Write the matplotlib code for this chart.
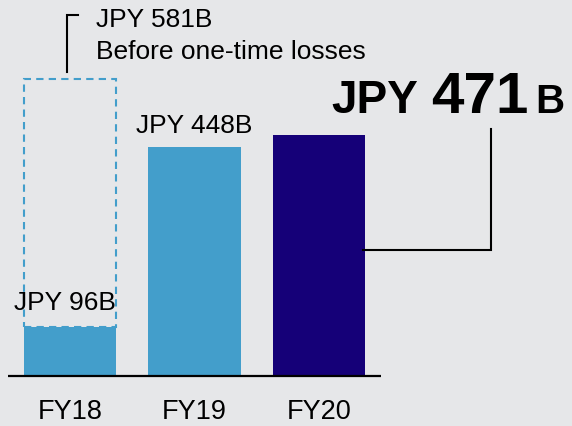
import matplotlib
matplotlib.use("Agg")
import matplotlib.pyplot as plt
from matplotlib.transforms import Affine2D

# data (JPY billions)
years = ["FY18", "FY19", "FY20"]
profit = [96, 448, 471]
before_losses = 581  # FY18 before one-time losses
bar_colors = ["#439ECB", "#439ECB", "#150078"]

W, H = 572, 426
bg = "#E6E7E9"
plt.rcParams["font.family"] = ["Liberation Sans", "DejaVu Sans"]

fig = plt.figure(figsize=(W / 100, H / 100), dpi=100, facecolor=bg)
ax = fig.add_axes([0, 0, 1, 1], facecolor=bg)
# x: bar i centred at pixel 70 + 124.5*i ; y: zero at pixel 376, 0.511 px per billion
ax.set_xlim(-70 / 124.5, (W - 70) / 124.5)
ax.set_ylim(-(H - 376) / 0.511, 376 / 0.511)
ax.axis("off")

# pixel transform (origin top-left) for the free annotations
px = Affine2D().scale(1 / W, -1 / H).translate(0, 1) + fig.transFigure

xs = list(range(len(years)))
ax.bar(xs, profit, width=0.745, color=bar_colors, zorder=2)
# dashed outline for FY18 before one-time losses
ax.bar(0, before_losses - profit[0], bottom=profit[0], width=0.745, fill=False,
       edgecolor="#439ECB", linestyle=(0, (3.5, 2.5)), linewidth=1.5, zorder=3)
ax.plot([-0.5, 2.5], [0, 0], color="black", lw=1.6, zorder=4, solid_capstyle="butt")

for x, lab in zip(xs, years):
    ax.text(x, -(419 - 376) / 0.511, lab, ha="center", va="baseline",
            fontsize=19.5)

# value labels
ax.text(0 - 0.04, profit[0] + 17 / 0.511, "JPY %dB" % profit[0], ha="center",
        va="baseline", fontsize=19)
ax.text(1, profit[1] + 14 / 0.511, "JPY %dB" % profit[1], ha="center",
        va="baseline", fontsize=19)

# bracket and note for the FY18 figure before losses
ax.plot([67, 67, 78], [72, 15, 15], color="black", lw=1.5, transform=px,
        solid_joinstyle="miter")
ax.text(96, 27, "JPY %dB" % before_losses, transform=px, ha="left",
        va="baseline", fontsize=19)
ax.text(96, 59, "Before one-time losses", transform=px, ha="left",
        va="baseline", fontsize=19)

# FY20 call-out
ax.plot([363, 491, 491], [250, 250, 129], color="black", lw=1.5, transform=px,
        solid_joinstyle="miter")
ax.text(331, 113, "JPY", transform=px, ha="left", va="baseline",
        fontsize=33, fontweight="bold")
ax.text(431, 113, "%d" % profit[2], transform=px, ha="left", va="baseline",
        fontsize=42, fontweight="bold")
ax.text(535, 113, "B", transform=px, ha="left", va="baseline",
        fontsize=29, fontweight="bold")

fig.savefig("out.png", dpi=100, facecolor=bg)
